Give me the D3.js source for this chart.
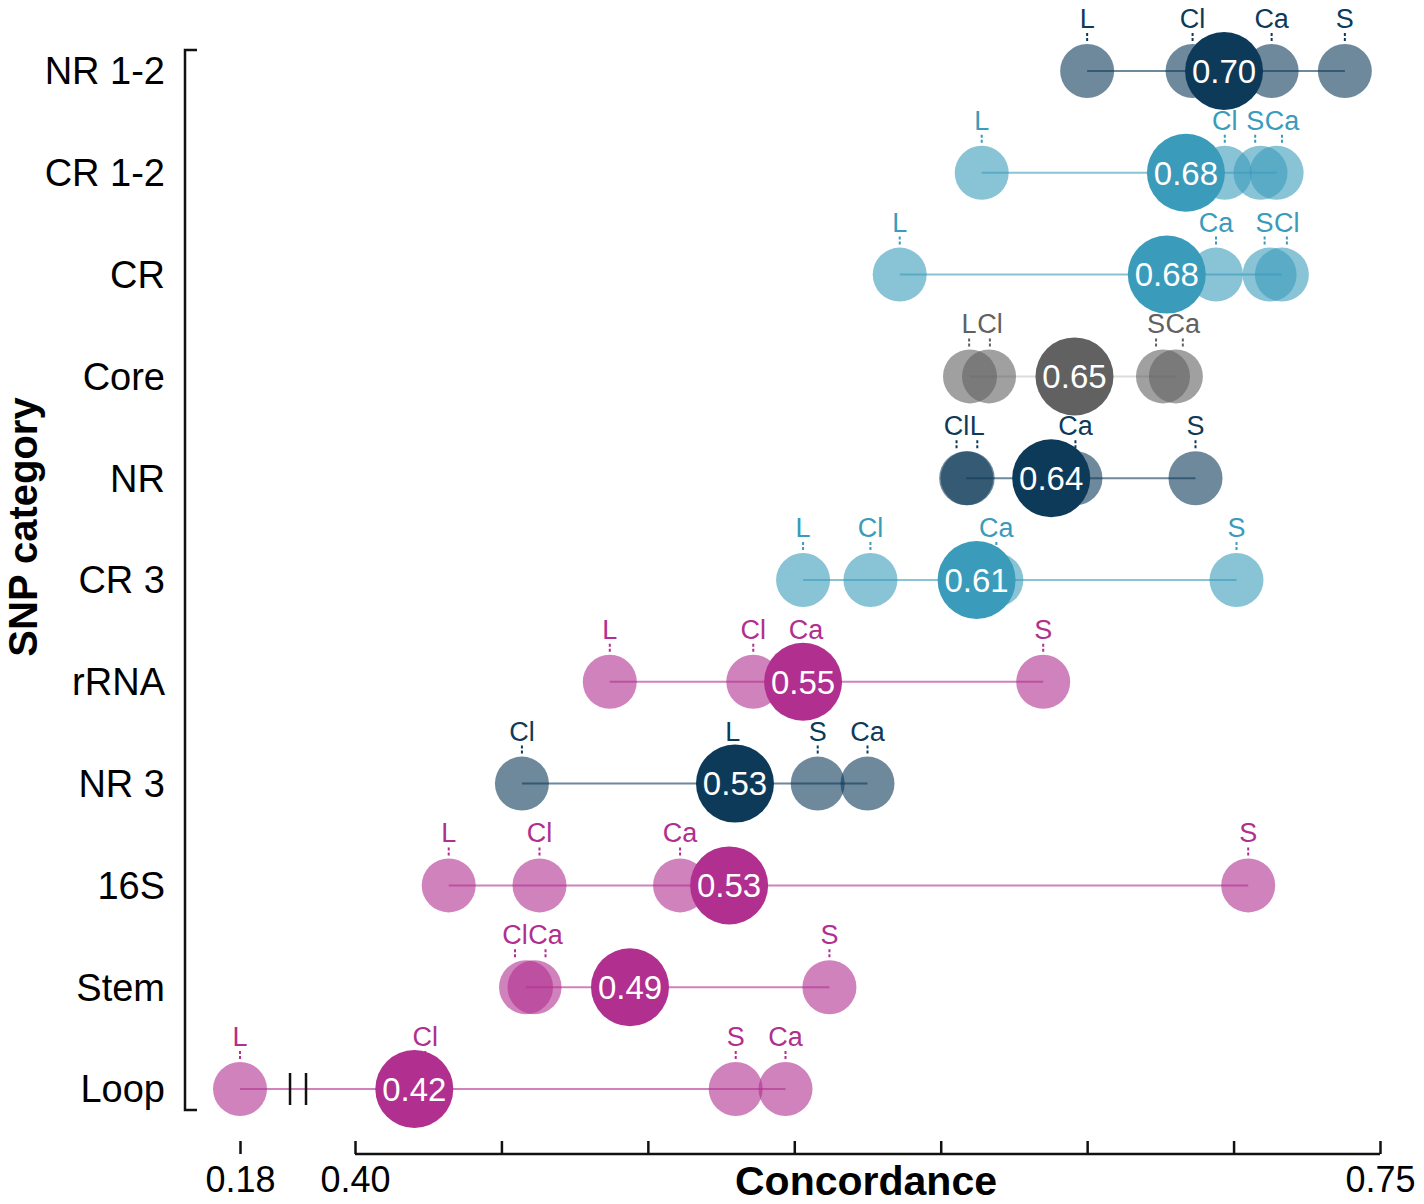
<!DOCTYPE html>
<html><head><meta charset="utf-8">
<script src="https://cdn.jsdelivr.net/npm/d3@7"></script>
<style>body{margin:0;background:#fff} svg{display:block}</style>
</head><body>
<svg id="chart" width="1424" height="1204"></svg>
<script>
// ---- data ----
const categories = ["NR 1-2","CR 1-2","CR","Core","NR","CR 3","rRNA","NR 3","16S","Stem","Loop"];
const groups     = ["NR","CR","CR","Core","NR","CR","rRNA","NR","rRNA","rRNA","rRNA"];
const tissueKeys = ["L","Cl","Ca","S"];
const valL  = [0.650, 0.614, 0.586, 0.610, 0.6092, 0.553, 0.487, 0.529, 0.432, null,  0.180];
const valCl = [0.686, 0.697, 0.7165, 0.6165, 0.6087, 0.576, 0.536, 0.457, 0.463, 0.4584, 0.424];
const valCa = [0.713, 0.7147, 0.694, 0.6803, 0.646, 0.619, 0.554, 0.575, 0.511, 0.4613, 0.547];
const valS  = [0.738, 0.7092, 0.7123, 0.6759, 0.687, 0.701, 0.635, 0.558, 0.705, 0.562, 0.530];
const tickValues = [0.18, 0.40, 0.45, 0.50, 0.55, 0.60, 0.65, 0.70, 0.75];
const tickLabels = ["0.18","0.40","","","","","","","0.75"];
const groupColors = {NR:"#0e3a5a", CR:"#3a9bbb", Core:"#616161", rRNA:"#b02f8f"};

// ---- build ----
const FONT = "'Liberation Sans', Arial, Helvetica, sans-serif";
const svg = d3.select("#chart").style("font-family", FONT);

const x = d3.scaleLinear().domain([0.18, 0.40, 0.75]).range([240, 355, 1380]);
const y = d3.scalePoint().domain(categories).range([71, 1089]);

const rSmall = 27, rBig = 39, labelSize = 27;

// text width measurement
const meas = svg.append("text").attr("font-size", labelSize).attr("visibility", "hidden");
function textW(s) { meas.text(s); return meas.node().getComputedTextLength(); }

const rows = categories.map((c, i) => {
  const vals = [valL[i], valCl[i], valCa[i], valS[i]];
  const pts = tissueKeys.map((k, j) => ({key: k, v: vals[j]})).filter(p => p.v != null);
  pts.forEach(p => { p.cx = x(p.v); p.lx = p.cx; p.w = textW(p.key); });
  // repel labels horizontally so they do not overlap
  const sorted = pts.slice().sort((a, b) => a.cx - b.cx);
  for (let it = 0; it < 60; it++) {
    let moved = false;
    for (let k = 0; k < sorted.length - 1; k++) {
      const a = sorted[k], b = sorted[k + 1];
      const need = (a.w + b.w) / 2 + 0.5;
      const gap = b.lx - a.lx;
      if (gap < need) {
        const d = (need - gap) / 2;
        a.lx -= d; b.lx += d; moved = true;
      }
    }
    if (!moved) break;
  }
  return {cat: c, group: groups[i], pts, mean: d3.mean(pts, p => p.v),
          min: d3.min(pts, p => p.v), max: d3.max(pts, p => p.v)};
});
meas.remove();

const g = svg.append("g");

rows.forEach(r => {
  const col = groupColors[r.group];
  const cy = y(r.cat);
  const row = g.append("g");
  // small circles
  row.selectAll("circle.s").data(r.pts).enter().append("circle")
    .attr("cx", d => d.cx).attr("cy", cy).attr("r", rSmall)
    .attr("fill", col).attr("fill-opacity", 0.6);
  // dotted leaders
  row.selectAll("line.d").data(r.pts).enter().append("line")
    .attr("x1", d => d.lx).attr("x2", d => d.lx)
    .attr("y1", cy - 30).attr("y2", cy - 40)
    .attr("stroke", col).attr("stroke-width", 2).attr("stroke-dasharray", "3,2");
  // range line
  row.append("line")
    .attr("x1", x(r.min)).attr("x2", x(r.max)).attr("y1", cy).attr("y2", cy)
    .attr("stroke", col).attr("stroke-width", 2)
    .attr("stroke-opacity", r.group === "Core" ? 0.22 : 0.6);
  // tissue labels
  row.selectAll("text.l").data(r.pts).enter().append("text")
    .attr("x", d => d.lx).attr("y", cy - 43)
    .attr("text-anchor", "middle").attr("font-size", labelSize).attr("fill", col)
    .text(d => d.key);
  // big mean circle
  row.append("circle").attr("cx", x(r.mean)).attr("cy", cy).attr("r", rBig).attr("fill", col);
  row.append("text").attr("x", x(r.mean)).attr("y", cy).attr("dy", "0.36em")
    .attr("text-anchor", "middle").attr("font-size", 33).attr("fill", "#fff")
    .text(r.mean.toFixed(2));
});

// axis break marks on the Loop row
const loopY = y("Loop");
const gapA = x(0.18), gapB = x(0.40);
[0.435, 0.574].forEach(f => {
  svg.append("line")
    .attr("x1", gapA + (gapB - gapA) * f).attr("x2", gapA + (gapB - gapA) * f)
    .attr("y1", loopY - 16).attr("y2", loopY + 16)
    .attr("stroke", "#111").attr("stroke-width", 2.5);
});

// y axis bracket
const yTop = 50, yBot = 1110, yAxX = 185;
svg.append("path")
  .attr("d", `M${yAxX + 12},${yTop}H${yAxX}V${yBot}H${yAxX + 12}`)
  .attr("fill", "none").attr("stroke", "#111").attr("stroke-width", 2.5);
svg.append("g").selectAll("text").data(categories).enter().append("text")
  .attr("x", 165).attr("y", d => y(d)).attr("dy", "0.35em")
  .attr("text-anchor", "end").attr("font-size", 38).attr("fill", "#000")
  .text(d => d);

// x axis
const axY = 1154;
const xAxis = d3.axisBottom(x).tickValues(tickValues)
  .tickFormat((d, i) => tickLabels[i]).tickSize(-13).tickPadding(12);
const ax = svg.append("g").attr("transform", `translate(0,${axY})`).call(xAxis);
ax.select(".domain").remove();
ax.selectAll(".tick line").attr("stroke", "#111").attr("stroke-width", 2.5);
ax.selectAll(".tick text").attr("font-size", 36).attr("fill", "#000").attr("font-family", FONT);
ax.append("line").attr("x1", x(0.40)).attr("x2", x(0.75)).attr("y1", 0).attr("y2", 0)
  .attr("stroke", "#111").attr("stroke-width", 2.5);

// titles
svg.append("text").attr("x", 866).attr("y", 1195).attr("text-anchor", "middle")
  .attr("font-size", 41).attr("font-weight", "bold").attr("fill", "#000").text("Concordance");
svg.append("text").attr("transform", "translate(37,527) rotate(-90)").attr("text-anchor", "middle")
  .attr("font-size", 40).attr("font-weight", "bold").attr("fill", "#000").text("SNP category");
</script>
</body></html>
